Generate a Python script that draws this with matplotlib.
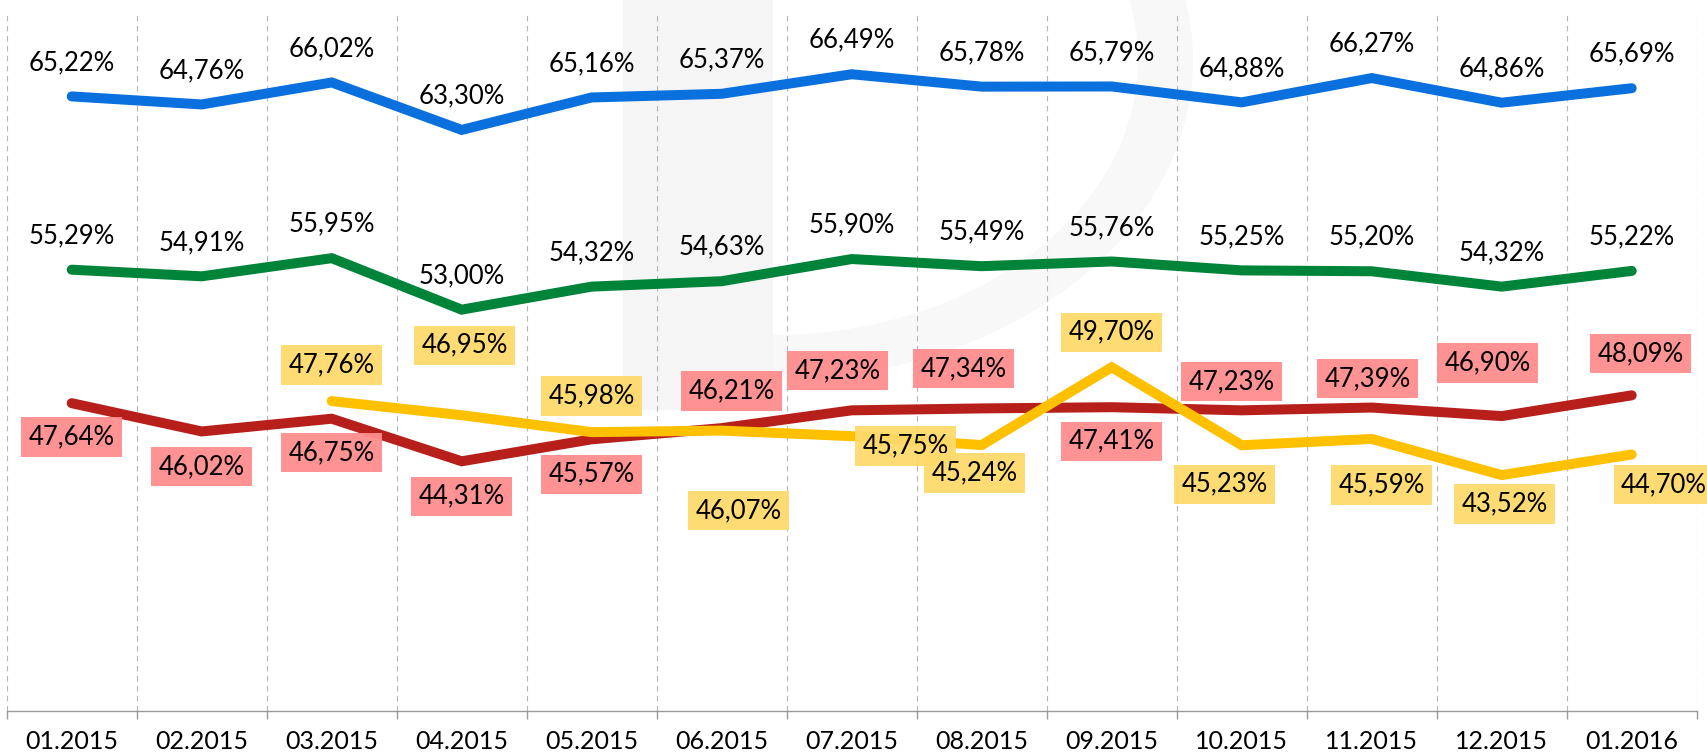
import matplotlib
matplotlib.use('Agg')
import matplotlib.pyplot as plt
from matplotlib.patches import Rectangle, Ellipse
import numpy as np

# data
months = ['01.2015', '02.2015', '03.2015', '04.2015', '05.2015', '06.2015', '07.2015',
          '08.2015', '09.2015', '10.2015', '11.2015', '12.2015', '01.2016']
blue_vals = [65.22, 64.76, 66.02, 63.30, 65.16, 65.37, 66.49, 65.78, 65.79, 64.88, 66.27, 64.86, 65.69]
green_vals = [55.29, 54.91, 55.95, 53.00, 54.32, 54.63, 55.90, 55.49, 55.76, 55.25, 55.20, 54.32, 55.22]
red_vals = [47.64, 46.02, 46.75, 44.31, 45.57, 46.21, 47.23, 47.34, 47.41, 47.23, 47.39, 46.90, 48.09]
yellow_vals = [np.nan, np.nan, 47.76, 46.95, 45.98, 46.07, 45.75, 45.24, 49.70, 45.23, 45.59, 43.52, 44.70]

# label offsets in pixels (dx, dy with dy measured downwards)
red_off = [(0, 34), (0, 35), (0, 34), (0, 35), (0, 35), (10, -37), (-14, -40),
           (-18, -40), (0, 34), (-10, -29), (-4, -29), (-14, -53), (9, -42)]
yellow_off = [None, None, (0, -36), (3, -70), (0, -36), (17, 80), (54, 10),
              (-7, 28), (0, -35), (-17, 39), (10, 46), (3, 29), (32, 30)]

c_blue = '#0A70DD'
c_green = '#00843A'
c_red = '#B71F1B'
c_yellow = '#FFC000'
box_red = '#FF8C8C'
box_yellow = '#FFD96B'
txt = '#000000'
fs = 18.5

plt.rcParams['font.family'] = ['Lato', 'DejaVu Sans']

fig = plt.figure(figsize=(17.08, 7.56), dpi=100)

# faint watermark in the background (pixel coords)
bg = fig.add_axes([0, 0, 1, 1], zorder=0)
bg.set_xlim(0, 1708)
bg.set_ylim(756, 0)
bg.axis('off')
bg.add_patch(Ellipse((773, 60), 840, 640, facecolor='#F8F8F8', edgecolor='none'))
bg.add_patch(Ellipse((773, 60), 730, 550, facecolor='white', edgecolor='none'))
bg.add_patch(Rectangle((300, -10), 323, 450, facecolor='white', edgecolor='none'))
bg.add_patch(Rectangle((623, -10), 150, 420, facecolor='#F5F5F5', edgecolor='none'))

ax = fig.add_axes([6.7 / 1708, 45 / 756, 1690 / 1708, 698 / 756], zorder=1)
ax.patch.set_alpha(0)
x = np.arange(len(months))
ax.set_xlim(-0.5, len(months) - 0.5)
ax.set_ylim(30, 70)

for s in ['top', 'left', 'right']:
    ax.spines[s].set_visible(False)
ax.spines['bottom'].set_color('#9A9A9A')
ax.spines['bottom'].set_linewidth(1.0)

ax.set_yticks([])
ax.set_xticks(x)
ax.set_xticklabels(months, fontsize=18, color=txt)
ax.tick_params(axis='x', which='major', length=0, pad=14)
ax.set_xticks(np.arange(-0.5, len(months)), minor=True)
ax.tick_params(axis='x', which='minor', length=6, width=1, color='#9A9A9A')
ax.grid(which='minor', axis='x', color='#B5B5B5', linestyle=(0, (5, 4)), linewidth=0.8)
ax.set_axisbelow(True)

lw = 7.2
line_kw = dict(solid_capstyle='round', solid_joinstyle='miter', linewidth=lw)
ax.plot(x, blue_vals, color=c_blue, zorder=3, **line_kw)
ax.plot(x, green_vals, color=c_green, zorder=3, **line_kw)
ax.plot(x, red_vals, color=c_red, zorder=3, **line_kw)
ax.plot(x, yellow_vals, color=c_yellow, zorder=4, **line_kw)

def fmt(v):
    return f'{v:.2f}'.replace('.', ',') + '%'

for i, v in enumerate(blue_vals):
    ax.annotate(fmt(v), (x[i], v), xytext=(0, 34), textcoords='offset pixels',
                ha='center', va='center', fontsize=fs, color=txt, zorder=6)
for i, v in enumerate(green_vals):
    ax.annotate(fmt(v), (x[i], v), xytext=(0, 34), textcoords='offset pixels',
                ha='center', va='center', fontsize=fs, color=txt, zorder=6)

for i, v in enumerate(red_vals):
    dx, dy = red_off[i]
    ax.annotate(fmt(v), (x[i], v), xytext=(dx, -dy), textcoords='offset pixels',
                ha='center', va='center', fontsize=fs, color=txt, zorder=6,
                bbox=dict(boxstyle='square,pad=0.28', facecolor=box_red, edgecolor='none', alpha=0.95))
for i, v in enumerate(yellow_vals):
    if np.isnan(v):
        continue
    dx, dy = yellow_off[i]
    ax.annotate(fmt(v), (x[i], v), xytext=(dx, -dy), textcoords='offset pixels',
                ha='center', va='center', fontsize=fs, color=txt, zorder=7,
                bbox=dict(boxstyle='square,pad=0.28', facecolor=box_yellow, edgecolor='none', alpha=0.95),
                annotation_clip=False)

fig.savefig('out.png', dpi=100, facecolor='white')
